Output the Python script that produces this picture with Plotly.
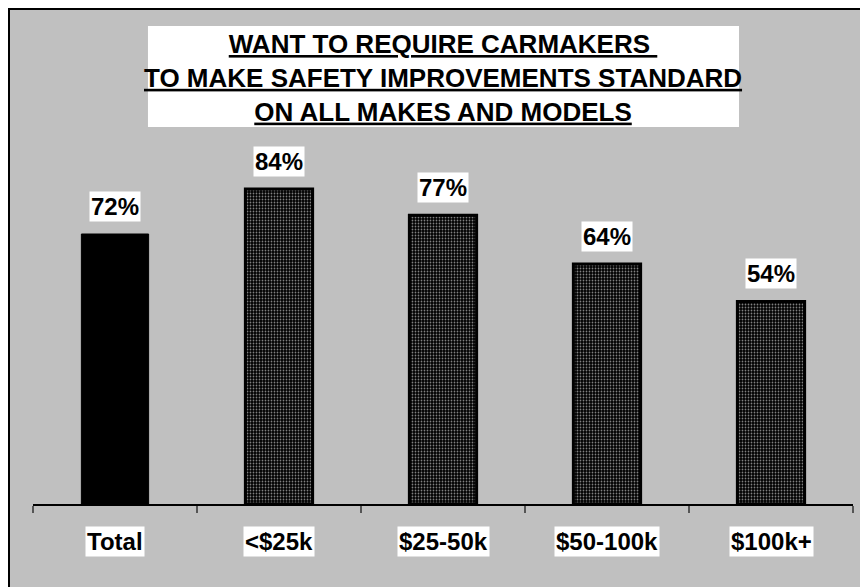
import plotly.graph_objects as go

categories = ["Total", "<$25k", "$25-50k", "$50-100k", "$100k+"]
values = [72, 84, 77, 64, 54]
value_labels = ["72%", "84%", "77%", "64%", "54%"]
title_lines = ["WANT TO REQUIRE CARMAKERS ",
               "TO MAKE SAFETY IMPROVEMENTS STANDARD",
               "ON ALL MAKES AND MODELS"]

FONT = "Liberation Sans, Arial, sans-serif"

fig = go.Figure()
fig.add_trace(go.Bar(
    x=categories, y=values, width=0.41,
    marker=dict(
        color=["black", "black", "black", "black", "black"],
        line=dict(color="black", width=[1, 3, 3, 3, 3]),
        pattern=dict(shape=["", ".", ".", ".", "."], fgcolor="#333333",
                     bgcolor="#eeeeee", size=3, solidity=0.28),
    ),
    hoverinfo="skip",
))

annotations = []
for c, v, lab in zip(categories, values, value_labels):
    annotations.append(dict(x=c, y=v, xref="x", yref="y", text="<b>%s</b>" % lab,
                            showarrow=False, yshift=28, yanchor="middle",
                            bgcolor="white", borderpad=1,
                            font=dict(family=FONT, size=24, color="black")))
    annotations.append(dict(x=c, y=0, xref="x", yref="y", text="<b>%s</b>" % c.replace("<", "&lt;"),
                            showarrow=False, yshift=-37, yanchor="middle",
                            bgcolor="white", borderpad=1,
                            font=dict(family=FONT, size=24, color="black")))

annotations.append(dict(x=0.5, y=1.135, xref="paper", yref="paper",
                        text="<br>".join("<b><u>%s</u></b>" % t for t in title_lines),
                        showarrow=False, xanchor="center", yanchor="middle",
                        font=dict(family=FONT, size=26, color="black")))

shapes = [
    dict(type="rect", xref="paper", yref="paper",
         x0=-24 / 820, x1=842 / 820, y0=-90 / 375, y1=495 / 375,
         fillcolor="rgba(0,0,0,0)", line=dict(color="black", width=2), layer="below"),
    dict(type="rect", xref="paper", yref="paper", x0=0.1402, x1=0.861, y0=1.0053, y1=1.2747,
         fillcolor="white", line=dict(width=0), layer="below"),
]

fig.update_layout(
    width=868, height=587,
    margin=dict(l=25, r=23, t=121, b=91),
    paper_bgcolor="#C0C0C0", plot_bgcolor="rgba(0,0,0,0)",
    showlegend=False,
    annotations=annotations, shapes=shapes,
    xaxis=dict(type="category", showline=True, linecolor="black", linewidth=2,
               ticks="outside", tickson="boundaries", ticklen=7, tickcolor="#555555",
               tickwidth=2, showticklabels=False, showgrid=False, zeroline=False),
    yaxis=dict(range=[0, 100], visible=False, showgrid=False, zeroline=False),
)

fig.write_html("out.html")
